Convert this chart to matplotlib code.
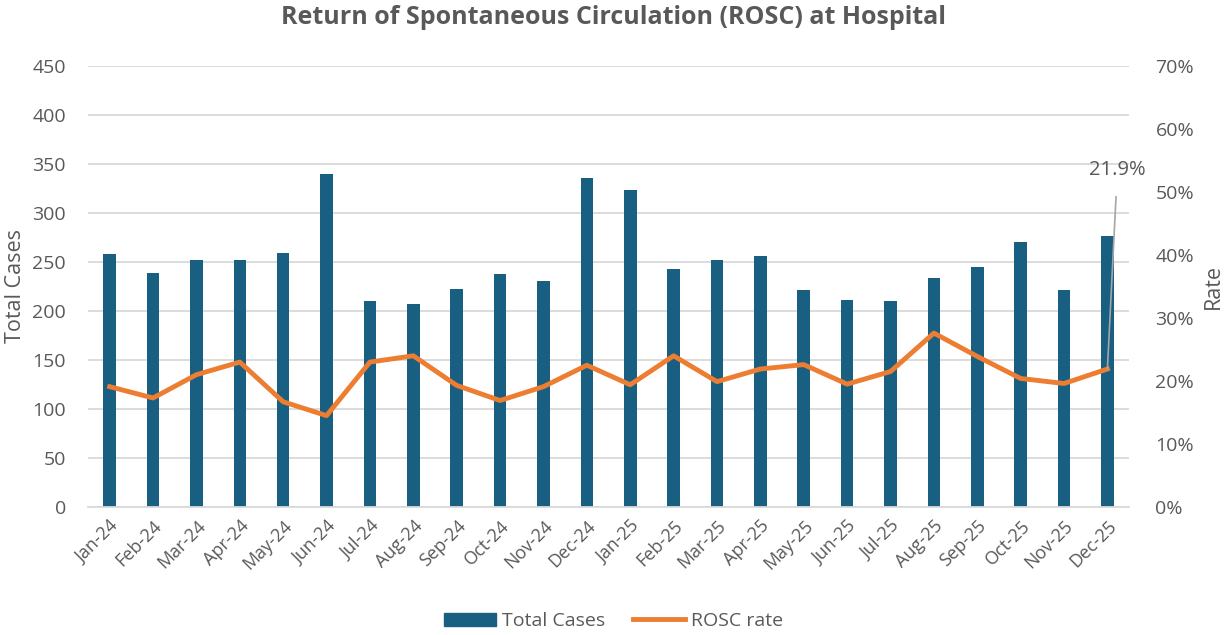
import matplotlib
matplotlib.use("Agg")
import matplotlib.pyplot as plt
from matplotlib.patches import Patch
from matplotlib.lines import Line2D
import numpy as np

months = ["Jan-24", "Feb-24", "Mar-24", "Apr-24", "May-24", "Jun-24", "Jul-24", "Aug-24",
          "Sep-24", "Oct-24", "Nov-24", "Dec-24", "Jan-25", "Feb-25", "Mar-25", "Apr-25",
          "May-25", "Jun-25", "Jul-25", "Aug-25", "Sep-25", "Oct-25", "Nov-25", "Dec-25"]
total_cases = [258, 239, 252, 252, 259, 340, 210, 207, 222, 238, 231, 336,
               323, 243, 252, 256, 221, 211, 210, 234, 245, 270, 221, 277]
rosc_rate = [19.1, 17.3, 21.0, 23.0, 16.7, 14.5, 23.0, 24.0, 19.3, 16.9, 19.1, 22.5,
             19.4, 24.0, 19.9, 21.9, 22.6, 19.5, 21.5, 27.6, 23.9, 20.4, 19.6, 21.9]
left_ticks = list(range(0, 451, 50))
right_ticks = list(range(0, 71, 10))

BLUE = "#185F82"
ORANGE = "#ED7D31"
GRID = "#D9D9D9"
TEXT = "#595959"

plt.rcParams["font.family"] = ["Open Sans", "DejaVu Sans"]

fig = plt.figure(figsize=(12.27, 6.35), dpi=100)
ax = fig.add_axes([0.0717, 0.2016, 0.8485, 0.6945])
ax2 = ax.twinx()

x = np.arange(len(months))
ax.bar(x, total_cases, width=0.29, color=BLUE, zorder=2)
ax.set_ylim(0, 450)
ax.set_xlim(-0.5, len(months) - 0.5)
ax.set_yticks(left_ticks)
ax.grid(axis="y", color=GRID, linewidth=1.3, zorder=0)
ax.set_axisbelow(True)
for s in ["top", "right", "left"]:
    ax.spines[s].set_visible(False)
ax.spines["bottom"].set_color(GRID)
ax.spines["bottom"].set_linewidth(1.3)
ax.tick_params(axis="y", length=0, labelsize=14, labelcolor=TEXT, pad=16)
ax.tick_params(axis="x", length=0, labelsize=13, labelcolor=TEXT, pad=7)
ax.set_xticks(x)
ax.set_xticklabels(months, rotation=45, ha="right", rotation_mode="anchor")
ax.set_ylabel("Total Cases", fontsize=15.5, color=TEXT, labelpad=4)

ax2.plot(x, rosc_rate, color=ORANGE, linewidth=3.5, solid_joinstyle="round", zorder=3)
ax2.set_ylim(0, 70)
ax2.set_yticks(right_ticks)
ax2.set_yticklabels([f"{t}%" for t in right_ticks])
for s in ["top", "right", "left", "bottom"]:
    ax2.spines[s].set_visible(False)
ax2.tick_params(axis="y", length=0, labelsize=14, labelcolor=TEXT, pad=19)
ax2.set_ylabel("Rate", fontsize=15.5, color=TEXT, labelpad=6)

# last point annotation
last = len(months) - 1
ax2.annotate(f"{rosc_rate[last]:.1f}%", xy=(x[last], rosc_rate[last]),
             xytext=(x[last] + 0.23, 53.5), textcoords="data",
             fontsize=14.5, color=TEXT, ha="center", va="center",
             arrowprops=dict(arrowstyle="-", color="#A6A6A6", linewidth=1.2,
                             shrinkA=10, shrinkB=0))

fig.text(0.5, 0.973, "Return of Spontaneous Circulation (ROSC) at Hospital",
         ha="center", va="center", fontsize=18, fontweight="bold", color=TEXT)

handles = [Patch(facecolor=BLUE, edgecolor=BLUE),
           Line2D([0], [0], color=ORANGE, linewidth=3.5)]
fig.legend(handles, ["Total Cases", "ROSC rate"], loc="center", ncol=2,
           bbox_to_anchor=(0.5, 0.022), frameon=False, fontsize=14,
           labelcolor=TEXT, handlelength=2.7, handleheight=0.65, columnspacing=1.4,
           handletextpad=0.3)

fig.savefig("out.png", dpi=100, facecolor="white")
